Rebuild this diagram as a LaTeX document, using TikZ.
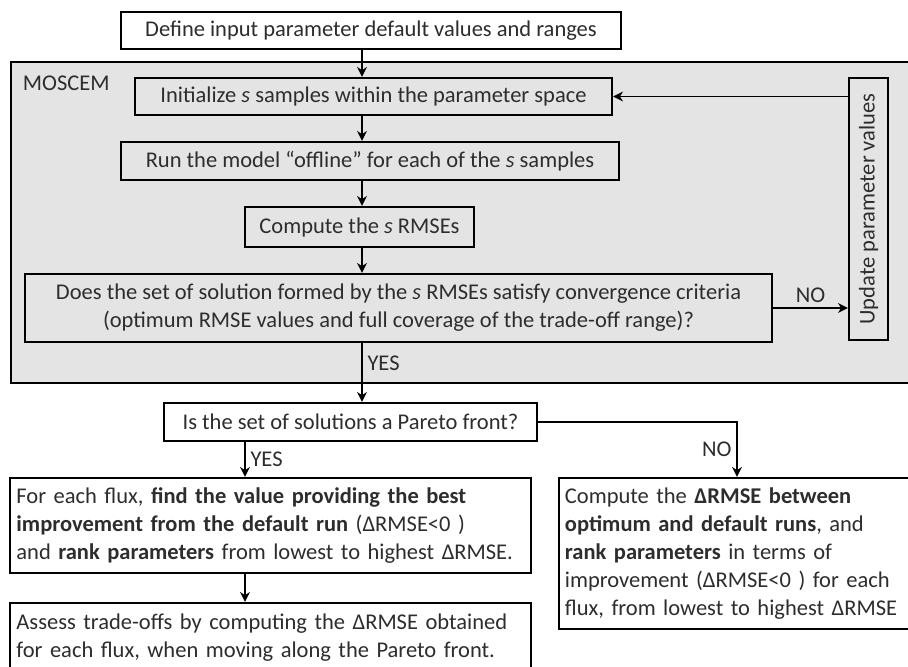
\documentclass[tikz,border=0pt]{standalone}
\usepackage{fontspec}
\setmainfont{Carlito}
\usetikzlibrary{arrows.meta}
\definecolor{mosgray}{RGB}{228,228,228}
\definecolor{txtgray}{RGB}{45,45,45}

\begin{document}
\begin{tikzpicture}[x=0.025cm, y=-0.025cm, font=\fontsize{16}{19.8}\selectfont]
    \tikzset{>={Stealth[length=7pt,width=7pt]}}
    \tikzset{box/.style={draw, line width=1.6pt, inner sep=5pt, text=txtgray}}
    \tikzset{lab/.style={text=txtgray}}
    \tikzset{flow/.style={->, line width=1.2pt}}
    \useasboundingbox (0,0) rectangle (908,666);
    \clip (0,0) rectangle (908,666);
    % MOSCEM region
    \draw [fill=mosgray, line width=1.2pt] (11,62) rectangle (930,383);
    \node [lab, anchor=west] (mos) at (18,83) {MOSCEM};
    \coordinate (sp) at (362,0);
    \coordinate (sp2) at (245,0);
    \node [box, fill=white, minimum width=12.5cm, minimum height=0.925cm] (def) at (371,30.5)
        {Define input parameter default values and ranges};
    \node [box, minimum width=11.925cm, minimum height=0.925cm] (init) at (373.5,96.5)
        {Initialize \textit{s} samples within the parameter space};
    \node [box, minimum width=12.45cm, minimum height=0.95cm] (run) at (370,161)
        {Run the model “offline” for each of the \textit{s} samples};
    \node [box, minimum width=5.725cm, minimum height=1cm] (rmse) at (359.5,227)
        {Compute the \textit{s} RMSEs};
    \node [box, align=center, minimum width=18.675cm, minimum height=1.7cm] (conv) at (398.5,308)
        {Does the set of solution formed by the \textit{s} RMSEs satisfy convergence criteria\\
         (optimum RMSE values and full coverage of the trade-off range)?};
    \node [box, rotate=90, minimum width=6.55cm, minimum height=0.975cm] (upd) at (868.5,209)
        {Update parameter values};
    \node [box, fill=white, minimum width=9.325cm, minimum height=0.95cm] (par) at (350.5,422)
        {Is the set of solutions a Pareto front?};
    \node [box, fill=white, align=left, text width=12.7cm, inner xsep=0.16cm, minimum height=2.375cm] (best) at (270.5,525.5)
        {For each flux, \textbf{find the value providing the best}\\
         \textbf{improvement from the default run} (ΔRMSE<0 )\\
         and \textbf{rank parameters} from lowest to highest ΔRMSE.};
    \node [box, fill=white, align=left, text width=12.7cm, inner xsep=0.16cm, minimum height=1.75cm] (trade) at (270.5,638)
        {Assess trade-offs by computing the ΔRMSE obtained\\
         for each flux, when moving along the Pareto front.};
    \node [box, fill=white, align=left, text width=8.6cm, inner xsep=0.15cm, minimum height=3.775cm] (dif) at (737,553.5)
        {Compute the \textbf{ΔRMSE between}\\
         \textbf{optimum and default runs}, and\\
         \textbf{rank parameters} in terms of\\
         improvement (ΔRMSE<0 ) for each\\
         flux, from lowest to highest ΔRMSE};
    % connectors
    \draw [flow] (def.south -| sp) -- (init.north -| sp);
    \draw [flow] (init.south -| sp) -- (run.north -| sp);
    \draw [flow] (run.south -| sp) -- (rmse.north -| sp);
    \draw [flow] (rmse.south -| sp) -- (conv.north -| sp);
    \draw [flow] (conv.east) -- node [lab, above] {NO} (conv.east -| upd.north);
    \draw [flow] (upd.north |- init.east) -- (init.east);
    \draw [flow] (conv.south -| sp) -- node [lab, right, pos=0.35] {YES} (par.north -| sp);
    \draw [flow] (par.south -| sp2) -- node [lab, right] {YES} (best.north -| sp2);
    \draw [flow] (par.east) -| node [lab, left, pos=0.75] {NO} (dif.north);
    \draw [flow] (best.south -| sp2) -- (trade.north -| sp2);
\end{tikzpicture}
\end{document}
